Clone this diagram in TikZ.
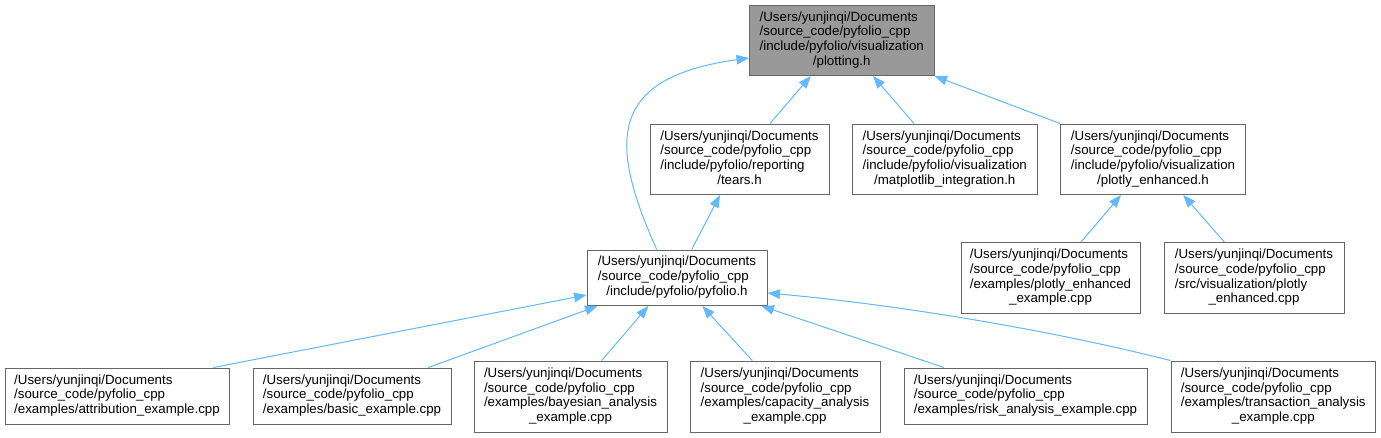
\documentclass[tikz,border=0pt]{standalone}
\usepackage{fontspec}
\setmainfont{Liberation Sans}
\usetikzlibrary{arrows.meta}
\definecolor{edgeblue}{HTML}{63B8FF}
\definecolor{boxline}{HTML}{666666}
\definecolor{boxgray}{HTML}{999999}
\newcommand{\lastline}[1]{\multicolumn{1}{@{}c@{}}{#1}}
\newcommand{\pth}{/Users/yunjinqi/Documents\\/source\_code/pyfolio\_cpp\\}
\begin{document}
\begin{tikzpicture}[x=1pt,y=-1pt,
  filebox/.style={draw=boxline, line width=1pt, fill=white, inner sep=0pt,
    font=\fontsize{13.3}{14.7}\selectfont, align=center},
  edge/.style={draw=edgeblue, line width=1pt,
    -{Triangle[length=12.5pt,width=9.5pt]}, color=edgeblue}]
\fill[white] (0,0) rectangle (1381,437);
\useasboundingbox (0,0) rectangle (1381,437);

\node[filebox, fill=boxgray, minimum width=184.5pt, minimum height=70.5pt] (plotting) at (841.75,40.25)
  {\begin{tabular}{@{}l@{}}\pth/include/pyfolio/visualization\\\lastline{/plotting.h}\end{tabular}};
\node[filebox, minimum width=179pt, minimum height=70.5pt] (tears) at (739.5,159.25)
  {\begin{tabular}{@{}l@{}}\pth/include/pyfolio/reporting\\\lastline{/tears.h}\end{tabular}};
\node[filebox, minimum width=184.5pt, minimum height=70.5pt] (matplotlib) at (944.75,159.25)
  {\begin{tabular}{@{}l@{}}\pth/include/pyfolio/visualization\\\lastline{/matplotlib\_integration.h}\end{tabular}};
\node[filebox, minimum width=185pt, minimum height=70.5pt] (plotlyh) at (1153,159.25)
  {\begin{tabular}{@{}l@{}}\pth/include/pyfolio/visualization\\\lastline{/plotly\_enhanced.h}\end{tabular}};
\node[filebox, minimum width=180pt, minimum height=55.5pt] (pyfolio) at (677,277.75)
  {\begin{tabular}{@{}l@{}}\pth\lastline{/include/pyfolio/pyfolio.h}\end{tabular}};
\node[filebox, minimum width=179pt, minimum height=70.5pt] (peexample) at (1050.5,277.75)
  {\begin{tabular}{@{}l@{}}\pth/examples/plotly\_enhanced\\\lastline{\_example.cpp}\end{tabular}};
\node[filebox, minimum width=180pt, minimum height=70.5pt] (pecpp) at (1254,277.75)
  {\begin{tabular}{@{}l@{}}\pth/src/visualization/plotly\\\lastline{\_enhanced.cpp}\end{tabular}};
\node[filebox, minimum width=224pt, minimum height=56pt] (attribution) at (117,396)
  {\begin{tabular}{@{}l@{}}\pth\lastline{/examples/attribution\_example.cpp}\end{tabular}};
\node[filebox, minimum width=198pt, minimum height=56pt] (basic) at (352,396)
  {\begin{tabular}{@{}l@{}}\pth\lastline{/examples/basic\_example.cpp}\end{tabular}};
\node[filebox, minimum width=193pt, minimum height=71pt] (bayesian) at (570.5,396.5)
  {\begin{tabular}{@{}l@{}}\pth/examples/bayesian\_analysis\\\lastline{\_example.cpp}\end{tabular}};
\node[filebox, minimum width=190pt, minimum height=71pt] (capacity) at (785,396.5)
  {\begin{tabular}{@{}l@{}}\pth/examples/capacity\_analysis\\\lastline{\_example.cpp}\end{tabular}};
\node[filebox, minimum width=243pt, minimum height=56pt] (risk) at (1025.5,396)
  {\begin{tabular}{@{}l@{}}\pth\lastline{/examples/risk\_analysis\_example.cpp}\end{tabular}};
\node[filebox, minimum width=204.5pt, minimum height=71pt] (transaction) at (1273.25,396.5)
  {\begin{tabular}{@{}l@{}}\pth/examples/transaction\_analysis\\\lastline{\_example.cpp}\end{tabular}};

% edges
\draw[edge] ([xshift=-20.3pt]pyfolio.north) .. controls (610,145) and (605,78) .. ([yshift=-17.75pt]plotting.west);
\draw[edge] ([xshift=30.5pt]tears.north) -- ([xshift=-31pt]plotting.south);
\draw[edge] ([xshift=-30.75pt]matplotlib.north) -- ([xshift=31.25pt]plotting.south);
\draw[edge] (plotlyh.north west) -- (plotting.south east);
\draw[edge] ([xshift=14.7pt]pyfolio.north) -- ([xshift=-19.5pt]tears.south);
\draw[edge] ([xshift=30.5pt]peexample.north) -- ([xshift=-32pt]plotlyh.south);
\draw[edge] ([xshift=-29.7pt]pecpp.north) -- ([xshift=30.3pt]plotlyh.south);
\draw[edge] ([xshift=96.3pt]attribution.north) -- ([yshift=-17.25pt]pyfolio.west);
\draw[edge] ([xshift=76.3pt]basic.north) -- ([xshift=11pt]pyfolio.south west);
\draw[edge] ([xshift=31.2pt]bayesian.north) -- ([xshift=-28.7pt]pyfolio.south);
\draw[edge] ([xshift=-32.7pt]capacity.north) -- ([xshift=25.3pt]pyfolio.south);
\draw[edge] ([xshift=-81.5pt]risk.north) -- ([xshift=-6pt]pyfolio.south east);
\draw[edge] (transaction.north west) .. controls (1050,330) and (900,305) .. ([yshift=-15.25pt]pyfolio.east);
\end{tikzpicture}
\end{document}
